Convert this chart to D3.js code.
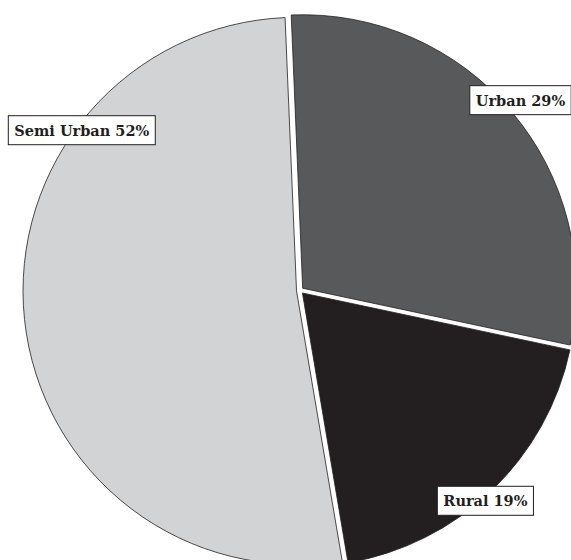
<!DOCTYPE html>
<html>
<head>
<meta charset="utf-8">
<script src="https://cdn.jsdelivr.net/npm/d3@7/dist/d3.min.js"></script>
<style>
  html, body { margin: 0; padding: 0; background: #fff; }
  svg { display: block; }
</style>
</head>
<body>
<svg id="chart" width="571" height="560"></svg>
<script>
// ---- data ----
const categories = ["Urban", "Rural", "Semi Urban"];
const values = [29, 19, 52];
const sliceColors = ["#58595b", "#231f20", "#d1d3d4"];

// ---- layout ----
const W = 571, H = 560;
const cx = 300, cy = 290.5, R = 273.5, explode = 3.5;
const startDeg = -2.4;
const labelFont = "bold 14.5px 'DejaVu Serif', 'Liberation Serif', serif";
// label placement: radius factor and absolute angle (degrees)
const labelLayout = [
  { r: 1.065, angle: 49.2 },
  { r: 1.025, angle: 138.6 },
  { r: 0.99, angle: 306.3 }
];

const svg = d3.select("#chart");
const rad = Math.PI / 180;
const data = categories.map((c, i) => ({ name: c, value: values[i], color: sliceColors[i] }));

const pie = d3.pie().value(d => d.value).sort(null)
  .startAngle(startDeg * rad).endAngle(startDeg * rad + 2 * Math.PI);
const arc = d3.arc().innerRadius(0).outerRadius(R);
const arcs = pie(data);

const root = svg.append("g").attr("transform", `translate(${cx},${cy})`);

root.selectAll("path.slice").data(arcs).enter().append("path")
  .attr("class", "slice")
  .attr("d", arc)
  .attr("fill", d => d.data.color)
  .attr("stroke", "#231f20")
  .attr("stroke-width", 0.8)
  .attr("transform", d => {
    const m = (d.startAngle + d.endAngle) / 2;
    return `translate(${explode * Math.sin(m)},${-explode * Math.cos(m)})`;
  });

// labels
const lg = root.selectAll("g.label").data(arcs).enter().append("g").attr("class", "label")
  .attr("transform", (d, i) => {
    const L = labelLayout[i];
    const a = L.angle !== undefined ? L.angle * rad : (d.startAngle + d.endAngle) / 2;
    return `translate(${R * L.r * Math.sin(a)},${-R * L.r * Math.cos(a)})`;
  });

lg.each(function(d) {
  const g = d3.select(this);
  const rect = g.append("rect");
  const t = g.append("text")
    .attr("text-anchor", "middle")
    .attr("dominant-baseline", "central")
    .style("font", labelFont)
    .attr("fill", "#231f20")
    .text(`${d.data.name} ${d.data.value}%`);
  const w = t.node().getComputedTextLength();
  const padX = 6, h = 29;
  rect.attr("x", -w / 2 - padX).attr("y", -h / 2)
    .attr("width", w + 2 * padX).attr("height", h)
    .attr("fill", "#fff").attr("stroke", "#231f20").attr("stroke-width", 1);
});
</script>
</body>
</html>
